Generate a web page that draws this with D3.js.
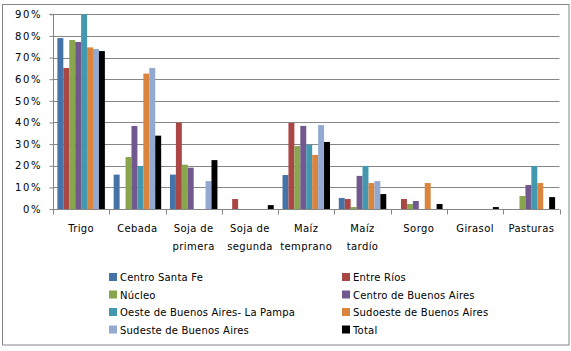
<!DOCTYPE html>
<html><head><meta charset="utf-8">
<script src="https://cdn.jsdelivr.net/npm/d3@7/dist/d3.min.js"></script>
<style>body{margin:0;background:#fff;}svg{display:block;font-family:"DejaVu Sans",sans-serif;}</style>
</head><body><svg id="c" width="571" height="351"></svg>
<script>
const categories = [["Trigo"],["Cebada"],["Soja de","primera"],["Soja de","segunda"],["Maíz","temprano"],["Maíz","tardío"],["Sorgo"],["Girasol"],["Pasturas"]];
const seriesNames = ["Centro Santa Fe","Entre Ríos","Núcleo","Centro de Buenos Aires","Oeste de Buenos Aires- La Pampa","Sudoeste de Buenos Aires","Sudeste de Buenos Aires","Total"];
const seriesColors = ["#4572A7","#AA4643","#89A54E","#71588F","#4198AF","#DB843D","#93A9CF","#000000"];
const centroSantaFe = [0.79,0.159,0.159,0,0.157,0.051,0,0,0];
const entreRios     = [0.652,0,0.399,0.046,0.398,0.046,0.046,0,0];
const nucleo        = [0.781,0.24,0.205,0,0.291,0.009,0.023,0,0.06];
const centroBA      = [0.772,0.384,0.191,0,0.384,0.153,0.037,0,0.111];
const oesteBA       = [0.90,0.199,0,0,0.297,0.199,0,0,0.199];
const sudoesteBA    = [0.747,0.626,0,0,0.25,0.12,0.12,0,0.12];
const sudesteBA     = [0.74,0.652,0.129,0,0.388,0.129,0,0,0];
const total         = [0.73,0.339,0.226,0.018,0.31,0.069,0.023,0.009,0.055];
const seriesValues = [centroSantaFe,entreRios,nucleo,centroBA,oesteBA,sudoesteBA,sudesteBA,total];
const yTicks = [0,0.1,0.2,0.3,0.4,0.5,0.6,0.7,0.8,0.9];

const svg = d3.select("#c");
const grey = "#868686";
svg.append("rect").attr("x",2.5).attr("y",4.5).attr("width",566.5).attr("height",340.5).attr("fill","#fff").attr("stroke",grey).attr("stroke-width",1);

const L=53, R=559.5, T=14.3, B=209;
const x = d3.scaleBand().domain(d3.range(categories.length)).range([L,R]).paddingInner(0).paddingOuter(0);
const pad = 4.4;
const xs = d3.scaleBand().domain(d3.range(seriesNames.length)).range([pad, x.bandwidth()-pad]).padding(0);
const y = d3.scaleLinear().domain([0,0.9]).range([B,T]);

// gridlines
svg.append("g").selectAll("line").data(yTicks.filter(d=>d>0)).join("line")
  .attr("x1",L).attr("x2",R).attr("y1",d=>Math.round(y(d))+0.5).attr("y2",d=>Math.round(y(d))+0.5)
  .attr("stroke",grey).attr("stroke-width",1);

// bars
const g = svg.append("g");
seriesValues.forEach((vals,si)=>{
  g.append("g").selectAll("rect").data(vals).join("rect")
    .attr("x",(d,i)=>x(i)+xs(si)).attr("width",xs.bandwidth())
    .attr("y",d=>y(d)).attr("height",d=>B-y(d))
    .attr("fill",seriesColors[si]);
});

// y axis
const ya = svg.append("g").attr("transform",`translate(${L+0.5},0)`)
  .call(d3.axisLeft(y).tickValues(yTicks).tickFormat(d3.format(".0%")).tickSize(4).tickPadding(9));
ya.select(".domain").attr("stroke",grey).attr("d",`M-4,${T}H0V${B}`);
ya.selectAll(".tick line").attr("stroke",grey);
ya.selectAll(".tick text").attr("font-size",10).attr("fill","#000").attr("font-family","DejaVu Sans").attr("letter-spacing","1.6px").attr("dx","1.6");

// x axis
const xa = svg.append("g").attr("transform",`translate(0,${B+0.5})`);
xa.append("line").attr("x1",L).attr("x2",R).attr("stroke",grey);
xa.selectAll("line.t").data(d3.range(categories.length+1)).join("line").attr("class","t")
  .attr("x1",i=>Math.round(i<categories.length?x(i):R)+0.5).attr("x2",i=>Math.round(i<categories.length?x(i):R)+0.5)
  .attr("y1",0).attr("y2",5).attr("stroke",grey);
const lab = svg.append("g").selectAll("text").data(categories).join("text")
  .attr("font-size",10).attr("text-anchor","middle").attr("fill","#000").attr("letter-spacing","0.4px");
lab.each(function(lines,i){
  const t=d3.select(this);
  lines.forEach((s,k)=>t.append("tspan").attr("x",x(i)+x.bandwidth()/2).attr("y",232+k*18).text(s));
});

// legend
const legX=[109,342], legY=[277,294.5,312,329.5];
const lg = svg.append("g").selectAll("g").data(seriesNames).join("g")
  .attr("transform",(d,i)=>`translate(${legX[i%2]},${legY[Math.floor(i/2)]})`);
lg.append("rect").attr("x",0).attr("y",-4).attr("width",8).attr("height",8).attr("fill",(d,i)=>seriesColors[i]);
lg.append("text").attr("x",11).attr("y",4).attr("font-size",10).attr("fill","#000").attr("letter-spacing","0.2px").text(d=>d);
</script></body></html>
